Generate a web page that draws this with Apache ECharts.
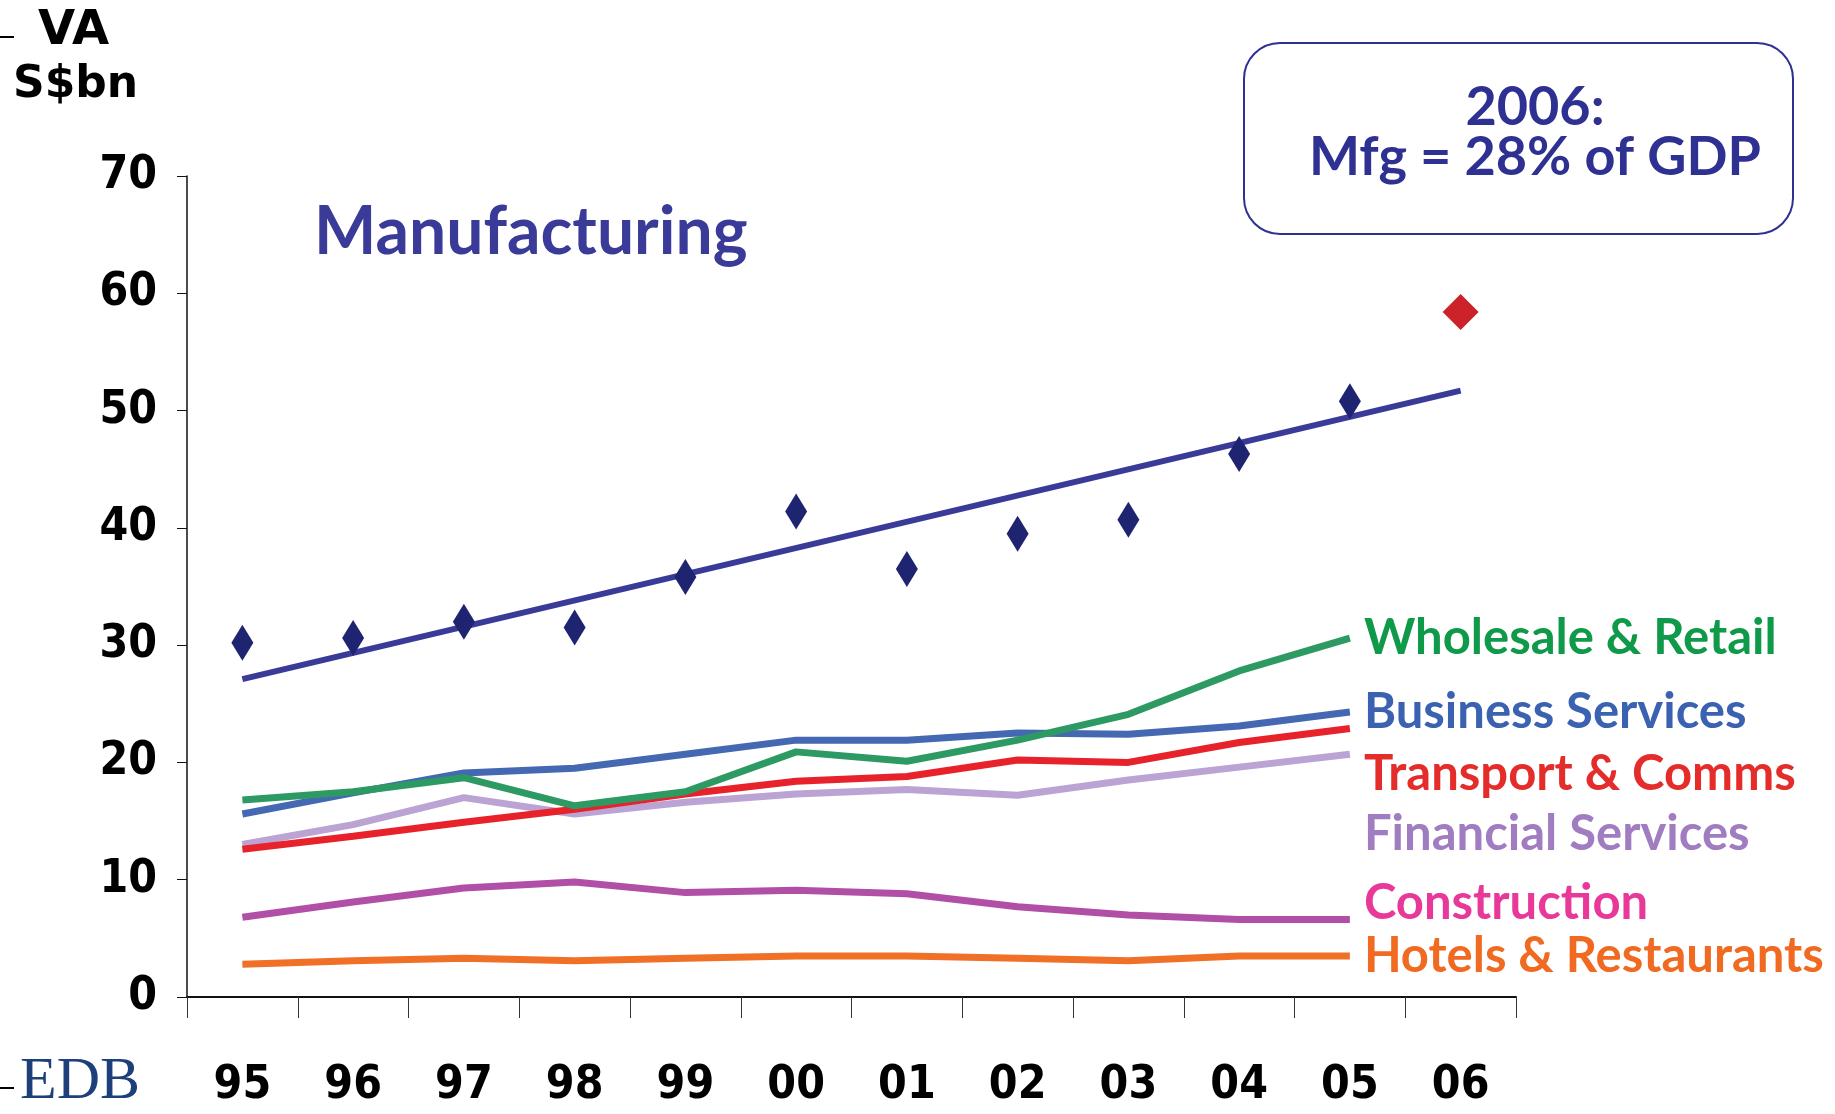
<!DOCTYPE html>
<html>
<head>
<meta charset="utf-8">
<title>Manufacturing VA</title>
<script src="https://cdn.jsdelivr.net/npm/echarts@6/dist/echarts.min.js"></script>
<style>
  html, body { margin: 0; padding: 0; background: #fff; }
  #chart { width: 1835px; height: 1114px; }
</style>
</head>
<body>
<div id="chart"></div>
<script>
// years on the x axis
var years = ["95", "96", "97", "98", "99", "00", "01", "02", "03", "04", "05", "06"];
var yTicks = [0, 10, 20, 30, 40, 50, 60, 70];

// manufacturing VA (S$bn), 1995-2005 actual, 2006 shown in red
var mfgValues = [30.2, 30.6, 32.0, 31.5, 35.8, 41.4, 36.5, 39.5, 40.7, 46.3, 50.8];
var mfg2006 = 58.4;
// trend line end points (95 and 06)
var mfgTrend = [27.1, null, null, null, null, null, null, null, null, null, null, 51.7];

// other sectors 95-05
var wholesale = [16.8, 17.5, 18.7, 16.3, 17.5, 20.9, 20.1, 21.9, 24.1, 27.8, 30.6];
var business = [15.6, 17.4, 19.1, 19.5, 20.7, 21.9, 21.9, 22.5, 22.4, 23.1, 24.3];
var transport = [12.6, 13.7, 14.9, 16.0, 17.3, 18.4, 18.8, 20.2, 20.0, 21.7, 22.9];
var financial = [13.0, 14.7, 17.0, 15.6, 16.6, 17.3, 17.7, 17.2, 18.5, 19.6, 20.7];
var construction = [6.8, 8.1, 9.3, 9.8, 8.9, 9.1, 8.8, 7.7, 7.0, 6.6, 6.6];
var hotels = [2.8, 3.1, 3.3, 3.1, 3.3, 3.5, 3.5, 3.3, 3.1, 3.5, 3.5];

var labelFont = "Lato, 'DejaVu Sans', sans-serif";
var tickFont = "'Liberation Sans Narrow', 'DejaVu Sans Condensed', 'Liberation Sans', sans-serif";

function sector(name, data, lineColor, textColor, dy) {
  return {
    name: name,
    type: "line",
    data: data,
    symbol: "none",
    z: 3,
    lineStyle: { color: lineColor, width: 7 },
    endLabel: {
      show: true,
      formatter: name,
      color: textColor,
      fontFamily: labelFont,
      fontWeight: "bold",
      fontSize: 49,
      distance: 14,
      offset: [0, dy]
    }
  };
}

var chart = echarts.init(document.getElementById("chart"));

var option = {
  animation: false,
  backgroundColor: "#fff",
  grid: { left: 187, right: 319, top: 176, bottom: 117 },
  xAxis: {
    type: "category",
    data: years,
    boundaryGap: true,
    axisLine: { lineStyle: { color: "#111", width: 2 } },
    axisTick: { show: true, length: 21, lineStyle: { color: "#333", width: 1 } },
    axisLabel: {
      color: "#000",
      fontFamily: tickFont,
      fontWeight: "bold",
      fontSize: 46,
      margin: 66
    }
  },
  yAxis: {
    type: "value",
    min: 0,
    max: 70,
    interval: 10,
    splitLine: { show: false },
    axisLine: { show: true, lineStyle: { color: "#111", width: 1.5 } },
    axisTick: { show: true, length: 10, lineStyle: { color: "#111" } },
    axisLabel: {
      color: "#000",
      fontFamily: tickFont,
      fontWeight: "bold",
      fontSize: 46,
      margin: 30,
      formatter: function (v) { return yTicks.indexOf(v) >= 0 ? String(v) : ""; }
    }
  },
  series: [
    sector("Hotels & Restaurants", hotels, "#f07028", "#f06a22", 0),
    sector("Construction", construction, "#b04fa5", "#e8399b", -16),
    sector("Financial Services", financial, "#bba3d4", "#a07cc0", 80),
    sector("Transport & Comms", transport, "#e8222a", "#e42d2a", 46),
    sector("Business Services", business, "#4468b2", "#3a62b0", 0),
    sector("Wholesale & Retail", wholesale, "#2d9a64", "#0f9a4a", 0),
    {
      name: "Mfg trend",
      type: "line",
      data: mfgTrend,
      connectNulls: true,
      symbol: "none",
      z: 4,
      lineStyle: { color: "#3a3a98", width: 6 }
    },
    {
      name: "Manufacturing",
      type: "scatter",
      data: mfgValues,
      symbol: "diamond",
      symbolSize: [22, 36],
      z: 5,
      itemStyle: { color: "#1f2470", opacity: 1 }
    },
    {
      name: "Manufacturing 2006",
      type: "scatter",
      data: [[years[11], mfg2006]],
      symbol: "diamond",
      symbolSize: [36, 36],
      z: 5,
      itemStyle: { color: "#cc2229", opacity: 1 }
    }
  ],
  graphic: [
    // unit label top left
    { type: "text", left: 38, top: 8, style: { text: "VA", fill: "#000", font: "bold 48px 'DejaVu Sans', sans-serif" } },
    { type: "text", left: 13, top: 64, style: { text: "S$bn", fill: "#000", font: "bold 44px 'DejaVu Sans', sans-serif" } },
    { type: "line", shape: { x1: 0, y1: 37, x2: 14, y2: 37 }, style: { stroke: "#000", lineWidth: 2 } },
    { type: "line", shape: { x1: 0, y1: 1088, x2: 14, y2: 1088 }, style: { stroke: "#000", lineWidth: 2 } },
    // EDB mark
    { type: "text", left: 20, top: 1052, style: { text: "EDB", fill: "#1d3f7a", font: "60px 'Liberation Serif', 'DejaVu Serif', serif" } },
    // series title
    { type: "text", left: 314, top: 200, style: { text: "Manufacturing", fill: "#3a3a98", font: "bold 66px " + labelFont } },
    // note box
    {
      type: "rect",
      shape: { x: 1244, y: 43, width: 549, height: 191, r: 36 },
      style: { fill: "#fff", stroke: "#2e3192", lineWidth: 2 }
    },
    {
      type: "text",
      x: 1535, y: 108,
      style: { text: "2006:", fill: "#2e3192", font: "bold 54px " + labelFont, align: "center", verticalAlign: "middle" }
    },
    {
      type: "text",
      x: 1535, y: 158,
      style: { text: "Mfg = 28% of GDP", fill: "#2e3192", font: "bold 54px " + labelFont, align: "center", verticalAlign: "middle" }
    }
  ]
};

chart.setOption(option);
</script>
</body>
</html>
